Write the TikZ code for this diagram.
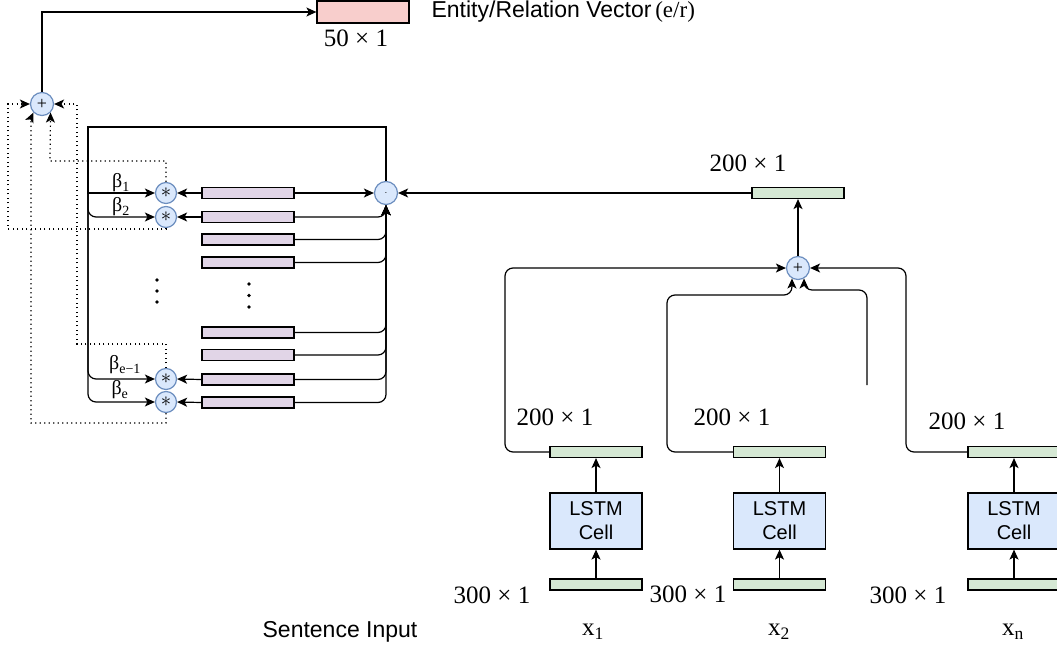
\documentclass[tikz,border=0pt]{standalone}
\usepackage{fontspec}
\setmainfont{Liberation Serif}
\setsansfont{Liberation Sans}
\usetikzlibrary{arrows.meta}
\definecolor{opfill}{HTML}{DAE8FC}
\definecolor{opdraw}{HTML}{6C8EBF}
\definecolor{purp}{HTML}{E1D5E7}
\definecolor{grn}{HTML}{D5E8D4}
\definecolor{pnk}{HTML}{F8CECC}
\tikzset{
  arr/.style={-{Stealth[length=10pt,width=9pt,inset=2.5pt]}},
  dotarr/.style={arr, dash pattern=on 1.2pt off 3.3pt},
  opnode/.style={circle, draw=opdraw, fill=opfill, line width=1.2pt, inner sep=0pt},
  bigop/.style={opnode, minimum size=23pt},
  starop/.style={opnode, minimum size=21pt},
  pbar/.style={draw=black, fill=purp, line width=1.2pt, minimum width=92pt, minimum height=11pt, inner sep=0pt},
  gbar/.style={draw=black, fill=grn, line width=1.2pt, minimum width=92pt, minimum height=11pt, inner sep=0pt},
  lstm/.style={draw=black, fill=opfill, line width=1.2pt, minimum width=92pt, minimum height=56pt, inner sep=0pt, align=center, font=\sffamily\fontsize{20}{24}\selectfont},
  dimlbl/.style={font=\fontsize{25}{28}\selectfont, inner sep=0pt},
  betalbl/.style={font=\fontsize{20}{22}\selectfont, inner sep=0pt},
  sanslbl/.style={font=\sffamily\fontsize{23}{26}\selectfont, inner sep=0pt},
  dotmark/.style={circle, fill=black, minimum size=3.8pt, inner sep=0pt},
  plussym/.style={font=\fontsize{18}{18}\selectfont},
  starsym/.style={font=\fontsize{22}{22}\selectfont}
}
\begin{document}
\begin{tikzpicture}[x=1pt,y=-1pt, line width=1.2pt]
\useasboundingbox (0,0) rectangle (1057,650);
% output vector
\node[draw=black, fill=pnk, line width=1.2pt, minimum width=92pt, minimum height=22pt, inner sep=0pt] (out) at (363,12) {};
\node[dimlbl] (outdim) at (356,38) {50 × 1};
\node[sanslbl, anchor=west] (outlbl) at (431,12) {Entity/Relation Vector\,{\rmfamily(e/r)}};
% summation node
\node[bigop, plussym] (p1) at (42,104) {+};
\draw[arr] (p1.north) |- (out.west);
% star nodes
\node[starop, starsym] (s1) at (166,193) {$\ast$};
\node[starop, starsym] (s2) at (166,217) {$\ast$};
\node[starop, starsym] (s3) at (166,379) {$\ast$};
\node[starop, starsym] (s4) at (166,402) {$\ast$};
% dot node
\node[bigop] (d) at (386,193) {$\cdot$};
% bars
\node[pbar] (b1) at (248,193) {};
\node[pbar] (b2) at (248,217) {};
\node[pbar] (b3) at (248,239.5) {};
\node[pbar] (b4) at (248,262.5) {};
\node[pbar] (b5) at (248,332.5) {};
\node[pbar] (b6) at (248,355) {};
\node[pbar] (b7) at (248,379.5) {};
\node[pbar] (b8) at (248,402.5) {};
% ellipses
\node[dotmark] (e1) at (157,280) {};
\node[dotmark] (e2) at (157,291) {};
\node[dotmark] (e3) at (157,302) {};
\node[dotmark] (e4) at (249,284) {};
\node[dotmark] (e5) at (249,295.5) {};
\node[dotmark] (e6) at (249,307) {};
% bars to stars
\draw[arr] (b1.west) -- (s1.east);
\draw[arr] (b2.west) -- (s2.east);
\draw[arr] (b7.west) -- (s3.east);
\draw[arr] (b8.west) -- (s4.east);
% bars to dot node
\draw[arr] (b1.east) -- (d.west);
\foreach \b in {b2,b3,b4,b5,b6,b7,b8}{
  \draw[arr, rounded corners=8pt] (\b.east) -- (\b.east -| d.south) -- (d.south);
}
% dot node to stars (frame)
\draw[arr] (d.north) -- (386,127) -- (88,127) -- (88,193) -- (s1.west);
\draw[arr] (d.north) -- (386,127) -- (88,127) -- (88,200) [rounded corners=8pt] -- (88,217) -- (s2.west);
\draw[arr] (d.north) -- (386,127) -- (88,127) -- (88,360) [rounded corners=8pt] -- (88,379) -- (s3.west);
\draw[arr] (d.north) -- (386,127) -- (88,127) -- (88,385) [rounded corners=8pt] -- (88,402) -- (s4.west);
\node[betalbl] (l1) at (121,183) {β\textsubscript{1}};
\node[betalbl] (l2) at (121,207) {β\textsubscript{2}};
\node[betalbl] (l3) at (125,365) {β\textsubscript{e−1}};
\node[betalbl] (l4) at (120,390) {β\textsubscript{e}};
% dotted feedback to sum
\draw[dotarr] (s2.south) -- (166,229) -- (8,229) -- (8,104) -- (p1.west);
\draw[dotarr] (s3.north) -- (166,344) -- (77,344) -- (77,104) -- (p1.east);
\draw[dotarr] (s4.south) -- (166,423) -- (31,423) -- (31,118) -- (p1.-135);
\draw[dotarr] (s1.north) -- (166,161) -- (50,161) -- (p1.-45);
% right part
\node[gbar] (g0) at (798,193) {};
\node[dimlbl] (g0dim) at (748,163) {200 × 1};
\node[bigop, plussym] (p2) at (798,268) {+};
\draw[arr] (g0.west) -- (d.east);
\draw[arr] (p2.north) -- (g0.south);
% columns
\node[gbar] (h1) at (596,452) {};
\node[lstm] (c1) at (596,521) {LSTM\\Cell};
\node[gbar] (i1) at (596,584.5) {};
\node[gbar] (h2) at (779.5,452) {};
\node[lstm] (c2) at (779.5,521) {LSTM\\Cell};
\node[gbar] (i2) at (779.5,584.5) {};
\node[gbar] (h3) at (1014,452) {};
\node[lstm] (c3) at (1014,521) {LSTM\\Cell};
\node[gbar] (i3) at (1014,584.5) {};
\foreach \k in {1,2,3}{
  \draw[arr] (i\k.north) -- (c\k.south);
  \draw[arr] (c\k.north) -- (h\k.south);
}
\node[dimlbl] (h1dim) at (555,417) {200 × 1};
\node[dimlbl] (h2dim) at (732,417) {200 × 1};
\node[dimlbl] (h3dim) at (967,421) {200 × 1};
\node[dimlbl] (i1dim) at (492,595) {300 × 1};
\node[dimlbl] (i2dim) at (688,594) {300 × 1};
\node[dimlbl] (i3dim) at (908,595) {300 × 1};
\node[dimlbl] (x1) at (593,632) {x\textsubscript{1}};
\node[dimlbl] (x2) at (779,632) {x\textsubscript{2}};
\node[dimlbl] (xn) at (1013,632) {x\textsubscript{n}};
\node[sanslbl] (sent) at (340,632) {Sentence Input};
% to second sum
\coordinate (free) at (867,385);
\draw[arr, rounded corners=8pt] (h1.west) -- (505,452) -- (505,268) -- (p2.west);
\draw[arr, rounded corners=8pt] (h2.west) -- (667,452) -- (667,295) -| (p2.-120);
\draw[arr, rounded corners=8pt] (free) -- (867,290) -| (p2.-60);
\draw[arr, rounded corners=8pt] (h3.west) -- (906,452) -- (906,268) -- (p2.east);
\end{tikzpicture}
\end{document}
